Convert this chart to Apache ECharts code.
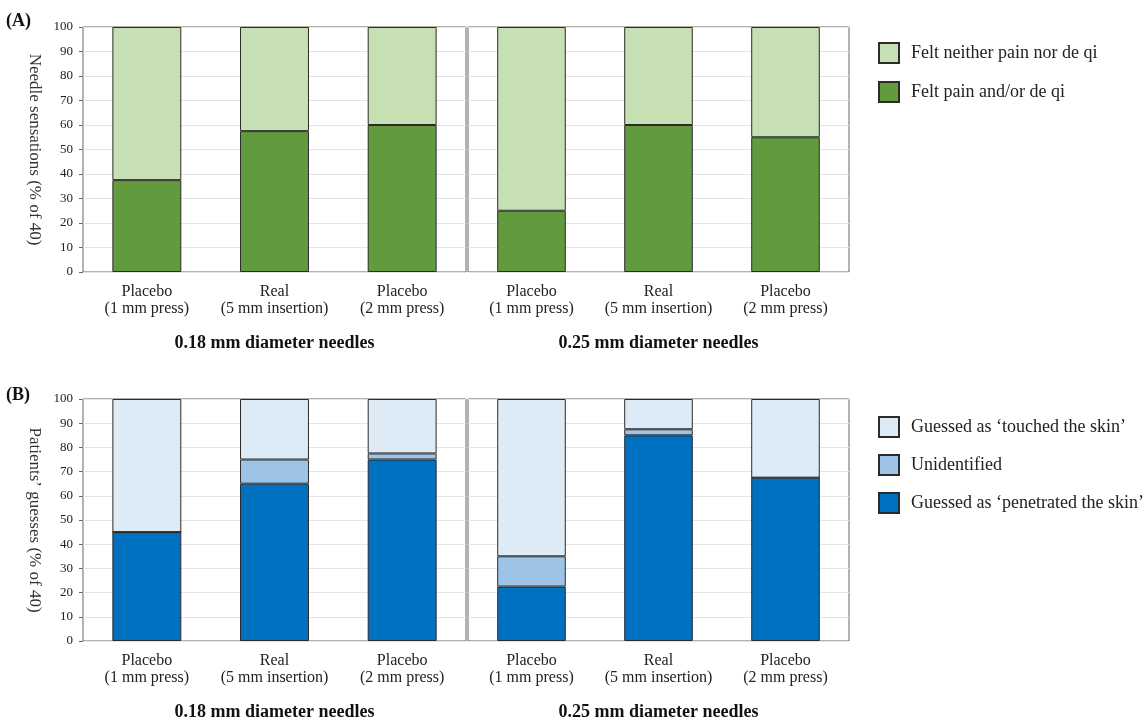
<!DOCTYPE html>
<html>
<head>
<meta charset="utf-8">
<title>Needle sensations and patients' guesses</title>
<script src="https://cdn.jsdelivr.net/npm/echarts@6/dist/echarts.min.js"></script>
<style>
  html, body {
    margin: 0;
    padding: 0;
    background: #ffffff;
  }
  #chart {
    width: 1147px;
    height: 722px;
  }
</style>
</head>
<body>
<div id="chart"></div>
<script>
  // x轴分类
  var categories = ['Placebo\n(1 mm press)', 'Real\n(5 mm insertion)', 'Placebo\n(2 mm press)']
  var groupNames = ['0.18 mm diameter needles', '0.25 mm diameter needles']
  var yTicks = [0, 10, 20, 30, 40, 50, 60, 70, 80, 90, 100]

  // (A) needle sensations, % of 40
  var painA018 = [37.5, 57.5, 60]
  var neitherA018 = [62.5, 42.5, 40]
  var painA025 = [25, 60, 55]
  var neitherA025 = [75, 40, 45]

  // (B) patients' guesses, % of 40
  var penetratedB018 = [45, 65, 75]
  var unidentifiedB018 = [0, 10, 2.5]
  var touchedB018 = [55, 25, 22.5]
  var penetratedB025 = [22.5, 85, 67.5]
  var unidentifiedB025 = [12.5, 2.5, 0]
  var touchedB025 = [65, 12.5, 32.5]

  var FONT = '"Liberation Serif", "Times New Roman", serif'
  var NAME_NEITHER = 'Felt neither pain nor de qi'
  var NAME_PAIN = 'Felt pain and/or de qi'
  var NAME_TOUCHED = 'Guessed as \u2018touched the skin\u2019'
  var NAME_UNIDENT = 'Unidentified'
  var NAME_PENETRATED = 'Guessed as \u2018penetrated the skin\u2019'

  var colors = {}
  colors[NAME_PAIN] = '#629b3d'
  colors[NAME_NEITHER] = '#c6e0b4'
  colors[NAME_PENETRATED] = '#0070c0'
  colors[NAME_UNIDENT] = '#9dc3e6'
  colors[NAME_TOUCHED] = '#ddebf7'

  var grids = [
    { left: 83, top: 27, width: 383, height: 245 },
    { left: 468, top: 27, width: 381, height: 245 },
    { left: 83, top: 399, width: 383, height: 245 },
    { left: 468, top: 399, width: 381, height: 245 }
  ]

  function makeGrid(g) {
    return {
      left: g.left,
      top: g.top,
      width: g.width,
      height: g.height,
      show: true,
      borderColor: '#666666',
      borderWidth: 1,
      containLabel: false
    }
  }

  function makeXAxis(index) {
    return {
      type: 'category',
      gridIndex: index,
      data: categories,
      name: groupNames[index % 2],
      nameLocation: 'middle',
      nameGap: 62,
      nameTextStyle: {
        fontFamily: FONT,
        fontSize: 18,
        fontWeight: 'bold',
        color: '#111111'
      },
      axisLine: { show: false },
      axisTick: { show: false },
      axisLabel: {
        interval: 0,
        hideOverlap: false,
        margin: 11,
        fontFamily: FONT,
        fontSize: 16,
        lineHeight: 17,
        color: '#222222'
      }
    }
  }

  function makeYAxis(index, name) {
    var first = index % 2 === 0
    return {
      type: 'value',
      gridIndex: index,
      min: 0,
      max: 100,
      interval: 10,
      name: first ? name : '',
      nameLocation: 'middle',
      nameRotate: -90,
      nameGap: 40,
      nameTextStyle: {
        fontFamily: FONT,
        fontSize: 17,
        color: '#333333'
      },
      axisLine: { show: false },
      axisTick: {
        show: first,
        length: 4,
        lineStyle: { color: '#666666' }
      },
      axisLabel: {
        show: first,
        margin: 10,
        fontFamily: FONT,
        fontSize: 13,
        color: '#222222',
        formatter: function(v) {
          return yTicks.indexOf(v) >= 0 ? String(v) : ''
        }
      },
      // 网格样式
      splitLine: {
        show: true,
        lineStyle: { color: '#e4e4e4', width: 1 }
      }
    }
  }

  function makeBar(name, data, index, stack) {
    return {
      name: name,
      type: 'bar',
      stack: stack,
      xAxisIndex: index,
      yAxisIndex: index,
      data: data,
      barWidth: '54%',
      itemStyle: {
        color: colors[name],
        borderColor: '#2b2b2b',
        borderWidth: 1
      },
      emphasis: { disabled: true }
    }
  }

  function legendBlock(top, gap, names) {
    return {
      orient: 'vertical',
      left: 878,
      top: top,
      padding: 0,
      itemWidth: 20,
      itemHeight: 20,
      itemGap: gap,
      icon: 'rect',
      data: names,
      textStyle: {
        fontFamily: FONT,
        fontSize: 18,
        color: '#222222',
        padding: [0, 0, 0, 7]
      }
    }
  }

  var options = {
    animation: false,
    backgroundColor: '#ffffff',
    graphic: [
      {
        type: 'text',
        left: 6,
        top: 12,
        style: { text: '(A)', fontFamily: FONT, fontSize: 18, fontWeight: 'bold', fill: '#111111' }
      },
      {
        type: 'text',
        left: 6,
        top: 386,
        style: { text: '(B)', fontFamily: FONT, fontSize: 18, fontWeight: 'bold', fill: '#111111' }
      }
    ],
    legend: [
      legendBlock(42, 17, [NAME_NEITHER, NAME_PAIN]),
      legendBlock(416, 16, [NAME_TOUCHED, NAME_UNIDENT, NAME_PENETRATED])
    ],
    grid: grids.map(makeGrid),
    xAxis: [0, 1, 2, 3].map(makeXAxis),
    yAxis: [
      makeYAxis(0, 'Needle sensations (% of 40)'),
      makeYAxis(1, ''),
      makeYAxis(2, 'Patients\u2019 guesses (% of 40)'),
      makeYAxis(3, '')
    ],
    series: [
      makeBar(NAME_PAIN, painA018, 0, 'a0'),
      makeBar(NAME_NEITHER, neitherA018, 0, 'a0'),
      makeBar(NAME_PAIN, painA025, 1, 'a1'),
      makeBar(NAME_NEITHER, neitherA025, 1, 'a1'),
      makeBar(NAME_PENETRATED, penetratedB018, 2, 'b0'),
      makeBar(NAME_UNIDENT, unidentifiedB018, 2, 'b0'),
      makeBar(NAME_TOUCHED, touchedB018, 2, 'b0'),
      makeBar(NAME_PENETRATED, penetratedB025, 3, 'b1'),
      makeBar(NAME_UNIDENT, unidentifiedB025, 3, 'b1'),
      makeBar(NAME_TOUCHED, touchedB025, 3, 'b1')
    ]
  }

  var chart = echarts.init(document.getElementById('chart'))
  chart.setOption(options)
</script>
</body>
</html>
